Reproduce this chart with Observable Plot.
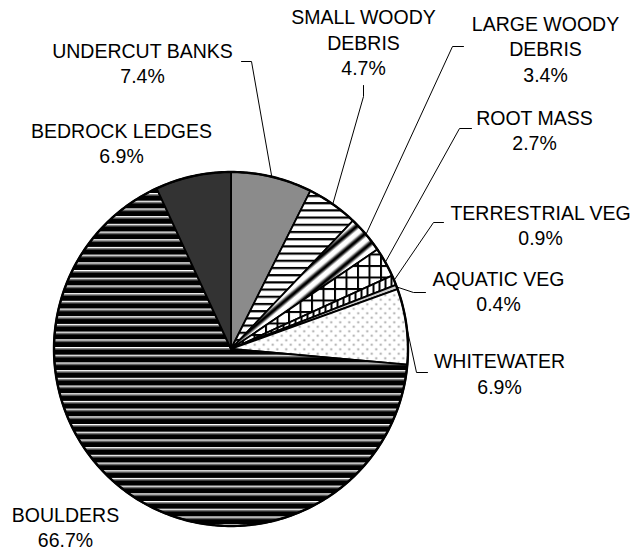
<!DOCTYPE html>
<html><head><meta charset="utf-8">
<script src="https://cdn.jsdelivr.net/npm/d3@7"></script>
<script src="https://cdn.jsdelivr.net/npm/@observablehq/plot@0.6"></script>
<style>html,body{margin:0;padding:0;background:#fff;}</style>
</head><body><div id="chart"></div>
<script>
// ---- data ----
const categories = ["UNDERCUT BANKS","SMALL WOODY DEBRIS","LARGE WOODY DEBRIS","ROOT MASS","TERRESTRIAL VEG","AQUATIC VEG","WHITEWATER","BOULDERS","BEDROCK LEDGES"];
const labelNames = ["UNDERCUT BANKS","SMALL WOODY\nDEBRIS","LARGE WOODY\nDEBRIS","ROOT MASS","TERRESTRIAL VEG","AQUATIC VEG","WHITEWATER","BOULDERS","BEDROCK LEDGES"];
const shares = [7.4, 4.7, 3.4, 2.7, 0.9, 0.4, 6.9, 66.7, 6.9];

// ---- layout (pixels) ----
const W = 635, H = 552, CX = 230.5, CY = 348.5, R = 177;
const labelPos = [[142,62],[363,41],[545,47.5],[534,129],[540,224],[498,290],[499,372.5],[65,526],[121,142]];
const leaderStubs = [
  [[241,61],[251,61]],
  [[363,85],[363,96]],
  [[463,46],[452,46]],
  [[471,128],[459,128]],
  [[443,222],[433,222]],
  [[425,292],[413,292]],
  [[427,372],[416,372]],
  null, null
];
const fills = ["url(#p0)","url(#p1)","url(#p2)","url(#p3)","url(#p4)","url(#p5)","url(#p6)","url(#p7)","#333333"];

// ---- geometry from data ----
const arcs = d3.pie().sort(null).value(d => d)(shares);
const pt = (a, r) => ({x: CX + r * Math.sin(a), y: CY - r * Math.cos(a)});
const slicePolys = arcs.map(a => {
  const n = Math.max(2, Math.ceil((a.endAngle - a.startAngle) / 0.01));
  const pts = [{x: CX, y: CY}];
  for (let k = 0; k <= n; k++) pts.push(pt(a.startAngle + (a.endAngle - a.startAngle) * k / n, R));
  return pts;
});
const ring = d3.range(0, 361).map(d => pt(d * Math.PI / 180, R));
const labels = arcs.map((a, i) => ({
  x: labelPos[i][0], y: labelPos[i][1],
  t: labelNames[i] + "\n" + shares[i].toFixed(1) + "%"
}));

const marks = [];
slicePolys.forEach((pts, i) => marks.push(
  Plot.line(pts, {x: "x", y: "y", curve: "linear-closed", fill: fills[i], stroke: "#000", strokeWidth: 1.8, strokeLinejoin: "round"})
));
marks.push(Plot.line(ring, {x: "x", y: "y", curve: "linear-closed", stroke: "#000", strokeWidth: 2.4, fill: "none"}));
arcs.forEach((a, i) => {
  if (!leaderStubs[i]) return;
  const m = (a.startAngle + a.endAngle) / 2;
  const pts = leaderStubs[i].map(([x, y]) => ({x, y})).concat([pt(m, R)]);
  marks.push(Plot.line(pts, {x: "x", y: "y", stroke: "#000", strokeWidth: 1, curve: "linear"}));
});
marks.push(Plot.text(labels, {x: "x", y: "y", text: "t", fontSize: 19.5, fontFamily: "'Liberation Sans', Arial, sans-serif", lineHeight: 1.31, fill: "#000"}));

const svg = Plot.plot({
  width: W, height: H, margin: 0,
  x: {domain: [0, W], range: [0, W], axis: null},
  y: {domain: [0, H], range: [0, H], axis: null},
  style: {background: "#fff"},
  marks
});

const defs = `
<defs>
 <pattern id="p0" patternUnits="userSpaceOnUse" width="2" height="2">
  <rect width="2" height="2" fill="#555"/>
  <rect x="0" y="0" width="1" height="1" fill="#c0c0c0"/>
  <rect x="1" y="1" width="1" height="1" fill="#c0c0c0"/>
 </pattern>
 <pattern id="p1" patternUnits="userSpaceOnUse" width="8" height="7.2">
  <rect width="8" height="7.2" fill="#fff"/>
  <rect y="0" width="8" height="2.2" fill="#000"/>
 </pattern>
 <linearGradient id="g2" x1="0" y1="0" x2="0" y2="1">
  <stop offset="0" stop-color="#fff"/>
  <stop offset="0.2" stop-color="#fff"/>
  <stop offset="0.47" stop-color="#000"/>
  <stop offset="0.62" stop-color="#000"/>
  <stop offset="0.85" stop-color="#fff"/>
  <stop offset="1" stop-color="#fff"/>
 </linearGradient>
 <pattern id="p2" patternUnits="userSpaceOnUse" width="20" height="11" patternTransform="rotate(-40)">
  <rect width="20" height="11" fill="url(#g2)"/>
 </pattern>
 <pattern id="p3" patternUnits="userSpaceOnUse" width="11.5" height="11.5">
  <rect width="11.5" height="11.5" fill="#fff"/>
  <rect x="0" y="0" width="2" height="11.5" fill="#000"/>
  <rect x="0" y="0" width="11.5" height="2" fill="#000"/>
 </pattern>
 <pattern id="p4" patternUnits="userSpaceOnUse" width="6" height="6">
  <rect width="6" height="6" fill="#fff"/>
  <rect x="0" y="0" width="2" height="6" fill="#000"/>
 </pattern>
 <pattern id="p5" patternUnits="userSpaceOnUse" width="2" height="2">
  <rect width="2" height="2" fill="#e8e8e8"/>
  <rect x="0" y="0" width="1" height="1" fill="#7a7a7a"/>
 </pattern>
 <pattern id="p6" patternUnits="userSpaceOnUse" width="9" height="9">
  <rect width="9" height="9" fill="#fff"/>
  <circle cx="2.25" cy="2.25" r="1.1" fill="#999"/>
  <circle cx="6.75" cy="6.75" r="1.1" fill="#999"/>
 </pattern>
 <pattern id="p7" patternUnits="userSpaceOnUse" width="10" height="7.7">
  <rect width="10" height="7.7" fill="#000"/>
  <rect y="0" width="10" height="1.4" fill="#fff"/>
  <rect y="1.4" width="10" height="1" fill="#a0a0a0"/>
 </pattern>
</defs>`;
svg.insertAdjacentHTML("afterbegin", defs);
document.getElementById("chart").appendChild(svg);
</script>
</body></html>
